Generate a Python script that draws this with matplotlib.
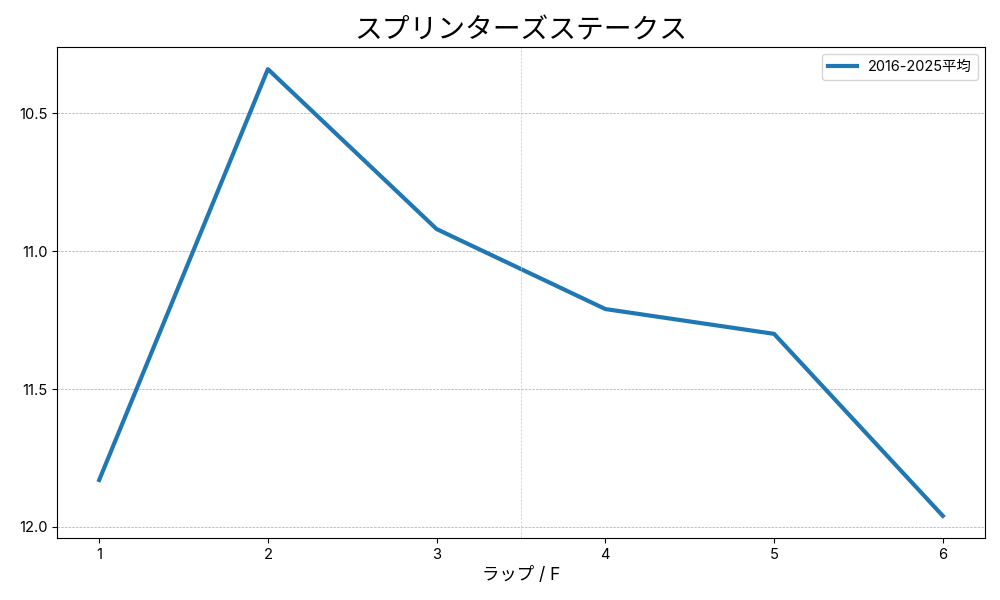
import matplotlib
matplotlib.use('Agg')
import matplotlib.pyplot as plt

plt.rcParams['font.family'] = ['Inter', 'Noto Sans CJK JP', 'DejaVu Sans']

# lap data
laps = [1, 2, 3, 4, 5, 6]
avg_times = [11.83, 10.34, 10.92, 11.21, 11.30, 11.96]
label = '2016-2025平均'

fig, ax = plt.subplots(figsize=(10, 6))
ax.plot(laps, avg_times, color='#1f77b4', linewidth=3, label=label)
ax.invert_yaxis()
ax.set_yticks([10.5, 11.0, 11.5, 12.0])
ax.set_xticks(laps)
ax.tick_params(labelsize=10.6)
ax.grid(axis='y', linestyle='--', linewidth=0.5, color='#aaaaaa')
# half-way marker
ax.axvline(3.5, linestyle='--', linewidth=0.5, color='#cccccc')
ax.set_title('スプリンターズステークス', fontsize=20)
ax.set_xlabel('ラップ / F', fontsize=12.5)
ax.legend(loc='upper right', fontsize=10.4)
fig.subplots_adjust(left=0.057, right=0.985, top=0.922, bottom=0.103)
plt.savefig('out.png', dpi=100)
